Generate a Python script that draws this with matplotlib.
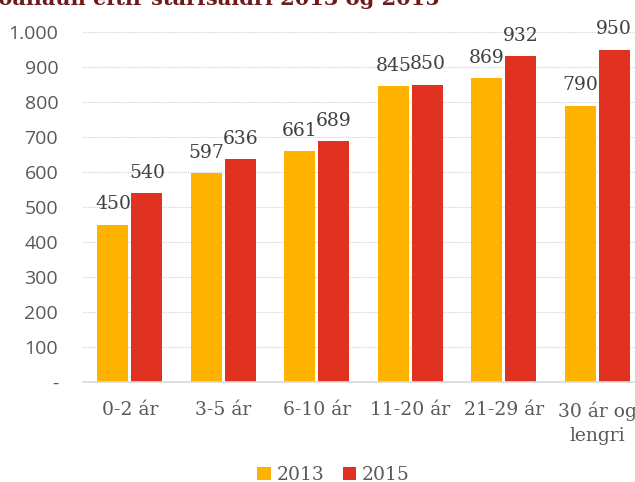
import matplotlib.pyplot as plt
import numpy as np
from matplotlib.ticker import FuncFormatter

categories = ['0-2 ár', '3-5 ár', '6-10 ár', '11-20 ár', '21-29 ár', '30 ár og\nlengri']
vals_2013 = [450, 597, 661, 845, 869, 790]
vals_2015 = [540, 636, 689, 850, 932, 950]
series_names = ['2013', '2015']
title = 'Meðallaun eftir starfsaldri 2013 og 2015'

c2013 = '#FFB300'
c2015 = '#E03121'
txt = '#595959'
serif = 'DejaVu Serif'

fig = plt.figure(figsize=(6.35, 4.82), dpi=100)
ax = fig.add_axes([0.131, 0.2075, 0.883, 0.726])

x = np.arange(len(categories))
w = 0.33
b1 = ax.bar(x - w / 2 - 0.017, vals_2013, w, color=c2013, label=series_names[0])
b2 = ax.bar(x + w / 2 + 0.017, vals_2015, w, color=c2015, label=series_names[1])

for bars in (b1, b2):
    for r in bars:
        ax.annotate(f'{int(r.get_height())}', (r.get_x() + r.get_width() / 2, r.get_height()),
                    xytext=(0, 8), textcoords='offset points', ha='center', va='bottom',
                    fontsize=13.5, color='#404040', family=serif)

ax.set_xlim(-0.5, len(categories) - 0.5)
ax.set_ylim(0, 1000)
ax.set_yticks(range(0, 1001, 100))
ax.yaxis.set_major_formatter(FuncFormatter(lambda v, p: '-' if v == 0 else f'{int(v):,}'.replace(',', '.')))
ax.set_xticks(x)
ax.set_xticklabels(categories, family=serif, fontsize=13.5, color=txt, linespacing=1.45)
for lab in ax.get_yticklabels():
    lab.set_family('Open Sans')
    lab.set_fontsize(14)
    lab.set_color(txt)
ax.tick_params(length=0)
ax.tick_params(axis='x', pad=14)
ax.tick_params(axis='y', pad=18)

ax.grid(axis='y', color='#D0D0D0', linestyle=(0, (1, 1)), linewidth=0.8)
ax.set_axisbelow(True)
for s in ['top', 'right', 'left']:
    ax.spines[s].set_visible(False)
ax.spines['bottom'].set_color('#D9D9D9')
ax.spines['bottom'].set_linewidth(1.2)

fig.legend(loc='lower center', bbox_to_anchor=(0.525, -0.04), ncol=2, frameon=False,
           prop={'family': serif, 'size': 13.5}, handlelength=0.7, handleheight=0.7,
           handletextpad=0.3, columnspacing=1.0, labelcolor=txt)

fig.text(0.693, 0.99, title, fontsize=15, fontweight='bold', color='#6E1A1A',
         family=serif, va='baseline', ha='right')

fig.savefig('out.png', dpi=100)
